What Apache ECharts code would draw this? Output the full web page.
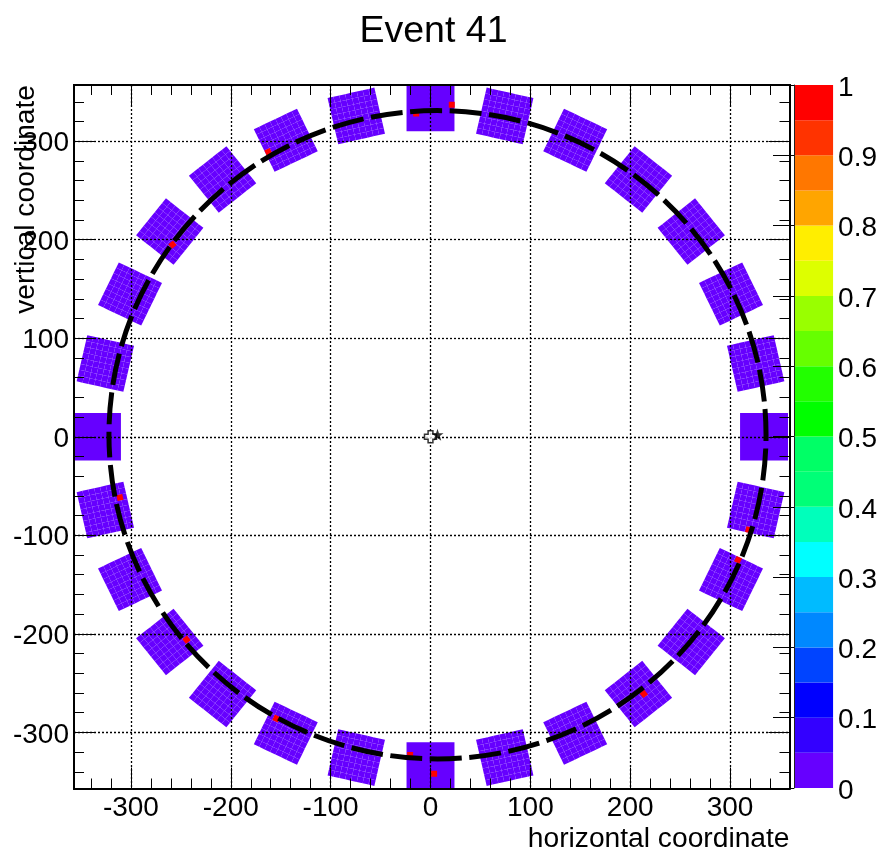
<!DOCTYPE html>
<html><head><meta charset="utf-8">
<style>html,body{margin:0;padding:0;background:#fff}#c{width:880px;height:854px}</style>
<script src="https://cdn.jsdelivr.net/npm/echarts@6/dist/echarts.min.js"></script>
</head><body><div id="c"></div>
<script>
const titleText = 'Event 41';
const xName = 'horizontal coordinate';
const yName = 'vertical coordinate';
const majorTicks = [-300,-200,-100,0,100,200,300];
const minorTicks = [-340,-320,-280,-260,-240,-220,-180,-160,-140,-120,-80,-60,-40,-20,20,40,60,80,120,140,160,180,220,240,260,280,320,340];
const zTicks = [0,0.1,0.2,0.3,0.4,0.5,0.6,0.7,0.8,0.9,1];
// module rotation angles, degrees clockwise from top
const moduleAngles = [0,12.857,25.714,38.571,51.429,64.286,77.143,90,102.857,115.714,128.571,141.429,154.286,167.143,180,192.857,205.714,218.571,231.429,244.286,257.143,270,282.857,295.714,308.571,321.429,334.286,347.143];
const moduleRadius = 334;
const moduleSide = 48;
const moduleCells = 8;
const moduleColor = '#6600ff';
// hit cells: x, y, rotation
const hitX = [-14.4,21.3,-162.4,-258.4,-311,-244.4,-154.4,-20.4,3.6,213.6,308,318.6];
const hitY = [328,337,289,195,-61.6,-206,-286,-323,-342,-261,-125,-94.4];
const hitAngle = [0,0,334.286,321.429,257.143,231.429,205.714,180,180,141.429,115.714,102.857];
const hitSide = 6;
// fitted track
const trackX = [7];
const trackY = [2];
const trackR = [329];
const vertexX = [0];
const vertexY = [0];
const starX = [7];
const starY = [2];
// palette bands
const bandLow = [0,0.05,0.1,0.15,0.2,0.25,0.3,0.35,0.4,0.45,0.5,0.55,0.6,0.65,0.7,0.75,0.8,0.85,0.9,0.95];
const bandHigh = [0.05,0.1,0.15,0.2,0.25,0.3,0.35,0.4,0.45,0.5,0.55,0.6,0.65,0.7,0.75,0.8,0.85,0.9,0.95,1];
const bandColor = ['#6600ff','#3300ff','#0000ff','#0044ff','#0088ff','#00bbff','#00ffff','#00ffbb','#00ff77','#00ff66','#00ff00','#22ff00','#66ff00','#99ff00','#ddff00','#ffee00','#ffa500','#ff7700','#ff3300','#ff0000'];

const FONT = '"Liberation Sans", Arial, sans-serif';
const LABEL = {fontFamily: FONT, fontSize: 28, color: '#000'};
const xRange = {min: -357, max: 359.5};
const yRange = {min: -357, max: 357};

function rotatedSquare(api, cx, cy, u0, u1, v0, v1, angle) {
  const a = angle * Math.PI / 180;
  const ur = [Math.sin(a), Math.cos(a)], vr = [Math.cos(a), -Math.sin(a)];
  return [[u0,v0],[u1,v0],[u1,v1],[u0,v1]].map(function (p) {
    return api.coord([cx + p[0]*ur[0] + p[1]*vr[0], cy + p[0]*ur[1] + p[1]*vr[1]]);
  });
}

function renderModule(params, api) {
  const angle = api.value(0);
  const a = angle * Math.PI / 180;
  const cx = moduleRadius * Math.sin(a), cy = moduleRadius * Math.cos(a);
  const aligned = angle % 90 === 0;
  const n = aligned ? 1 : moduleCells;
  const step = moduleSide / n, h = moduleSide / 2;
  const children = [];
  for (let i = 0; i < n; i++) for (let j = 0; j < n; j++) {
    children.push({
      type: 'polygon',
      shape: {points: rotatedSquare(api, cx, cy, -h+i*step, -h+(i+1)*step, -h+j*step, -h+(j+1)*step, angle)},
      style: {fill: moduleColor}
    });
  }
  return {type: 'group', children: children};
}

function renderHit(params, api) {
  const s = hitSide / 2;
  return {
    type: 'polygon',
    shape: {points: rotatedSquare(api, api.value(0), api.value(1), -s, s, -s, s, api.value(2))},
    style: {fill: '#ff0000'}
  };
}

function renderTrack(params, api) {
  const c = api.coord([api.value(0), api.value(1)]);
  const sz = api.size([api.value(2), api.value(2)]);
  return {
    type: 'ellipse',
    shape: {cx: c[0], cy: c[1], rx: sz[0], ry: sz[1]},
    style: {fill: null, stroke: '#000', lineWidth: 5, lineDash: [32, 7.55], lineDashOffset: 29}
  };
}

function renderBand(params, api) {
  const low = api.coord([0, api.value(0)]);
  const high = api.coord([1, api.value(1)]);
  return {
    type: 'rect',
    shape: {x: low[0], y: high[1], width: high[0]-low[0], height: low[1]-high[1]},
    style: {fill: bandColor[params.dataIndex]}
  };
}

function axis(extra) {
  return Object.assign({
    type: 'value', gridIndex: 0, z: 5,
    axisLine: {show: true, onZero: false, lineStyle: {color: '#000', width: 2}},
    axisTick: {show: false}, axisLabel: {show: false}, splitLine: {show: false}, minorTick: {show: false}
  }, extra);
}
const majorTick = {show: true, inside: true, length: 21, customValues: majorTicks, lineStyle: {color: '#000', width: 1}};
const minorTick = {show: true, inside: true, length: 10, customValues: minorTicks, lineStyle: {color: '#000', width: 1}};
const dotted = {show: true, lineStyle: {color: '#000', width: 1.3, type: [2, 2]}};

const option = {
  animation: false,
  backgroundColor: '#fff',
  title: {text: titleText, left: 428.5, top: 8, textAlign: 'center',
    textStyle: {fontFamily: FONT, fontSize: 37.5, fontWeight: 'normal', color: '#000'}},
  grid: [
    {left: 74, width: 715.5, top: 85, height: 703.5},
    {left: 794, width: 40, top: 85, height: 703}
  ],
  xAxis: [
    axis(Object.assign({position: 'bottom', axisTick: majorTick, splitLine: dotted,
      axisLabel: {show: true, customValues: majorTicks, margin: 6, ...LABEL},
      name: xName, nameLocation: 'end', nameGap: 0, nameMoveOverlap: false,
      nameTextStyle: {...LABEL, fontSize: 28.2, align: 'right', verticalAlign: 'top', padding: [37, 0, 0, 0]}}, xRange)),
    axis(Object.assign({position: 'top', axisTick: majorTick}, xRange)),
    axis(Object.assign({position: 'bottom', axisTick: minorTick}, xRange)),
    axis(Object.assign({position: 'top', axisTick: minorTick}, xRange)),
    {type: 'value', gridIndex: 1, min: 0, max: 1, show: false}
  ],
  yAxis: [
    axis(Object.assign({position: 'left', axisTick: majorTick, splitLine: dotted,
      axisLabel: {show: true, customValues: majorTicks, margin: 5, verticalAlign: 'top', lineHeight: 5, ...LABEL},
      name: yName, nameLocation: 'end', nameGap: 0, nameRotate: 90, nameMoveOverlap: false,
      nameTextStyle: {...LABEL, fontSize: 28.2, align: 'right', verticalAlign: 'bottom', padding: [0, 0, 34, 0]}}, yRange)),
    axis(Object.assign({position: 'right', axisTick: majorTick}, yRange)),
    axis(Object.assign({position: 'left', axisTick: minorTick}, yRange)),
    axis(Object.assign({position: 'right', axisTick: minorTick}, yRange)),
    {type: 'value', gridIndex: 1, min: 0, max: 1, position: 'right', z: 5,
      axisLine: {show: true, lineStyle: {color: '#222', width: 1}},
      axisTick: {show: true, inside: true, length: 21, customValues: zTicks, lineStyle: {color: '#000', width: 1}},
      axisLabel: {show: true, customValues: zTicks, margin: 5, verticalAlign: 'top', lineHeight: 6, formatter: function (v) { return String(v); }, ...LABEL},
      splitLine: {show: false}}
  ],
  series: [
    {type: 'custom', name: 'modules', xAxisIndex: 0, yAxisIndex: 0, clip: true, z: 1,
      renderItem: renderModule, data: moduleAngles.map(function (a) { return [a]; }),
      encode: {x: 0}, silent: true},
    {type: 'custom', name: 'hits', xAxisIndex: 0, yAxisIndex: 0, clip: true, z: 2,
      renderItem: renderHit, data: hitX.map(function (x, i) { return [x, hitY[i], hitAngle[i]]; }),
      encode: {x: 0, y: 1}, silent: true},
    {type: 'custom', name: 'track', xAxisIndex: 0, yAxisIndex: 0, z: 7,
      renderItem: renderTrack, data: trackX.map(function (x, i) { return [x, trackY[i], trackR[i]]; }),
      encode: {x: 0, y: 1}, silent: true},
    {type: 'scatter', name: 'vertex', xAxisIndex: 0, yAxisIndex: 0, z: 8,
      symbol: 'path://M3,0H7V3H10V7H7V10H3V7H0V3H3Z', symbolSize: 12,
      itemStyle: {color: '#fff', borderColor: '#000', borderWidth: 1.5},
      data: vertexX.map(function (x, i) { return [x, vertexY[i]]; })},
    {type: 'scatter', name: 'fit vertex', xAxisIndex: 0, yAxisIndex: 0, z: 9,
      symbol: 'path://M5,0L6.2,3.5H10L7,5.8L8.1,9.5L5,7.3L1.9,9.5L3,5.8L0,3.5H3.8Z', symbolSize: 12,
      itemStyle: {color: '#000'},
      data: starX.map(function (x, i) { return [x, starY[i]]; })},
    {type: 'custom', name: 'palette', xAxisIndex: 4, yAxisIndex: 4, z: 1,
      renderItem: renderBand, data: bandLow.map(function (l, i) { return [l, bandHigh[i]]; }),
      encode: {y: [0, 1]}, silent: true}
  ]
};
echarts.init(document.getElementById('c'), null, {renderer: 'canvas'}).setOption(option);
</script></body></html>
